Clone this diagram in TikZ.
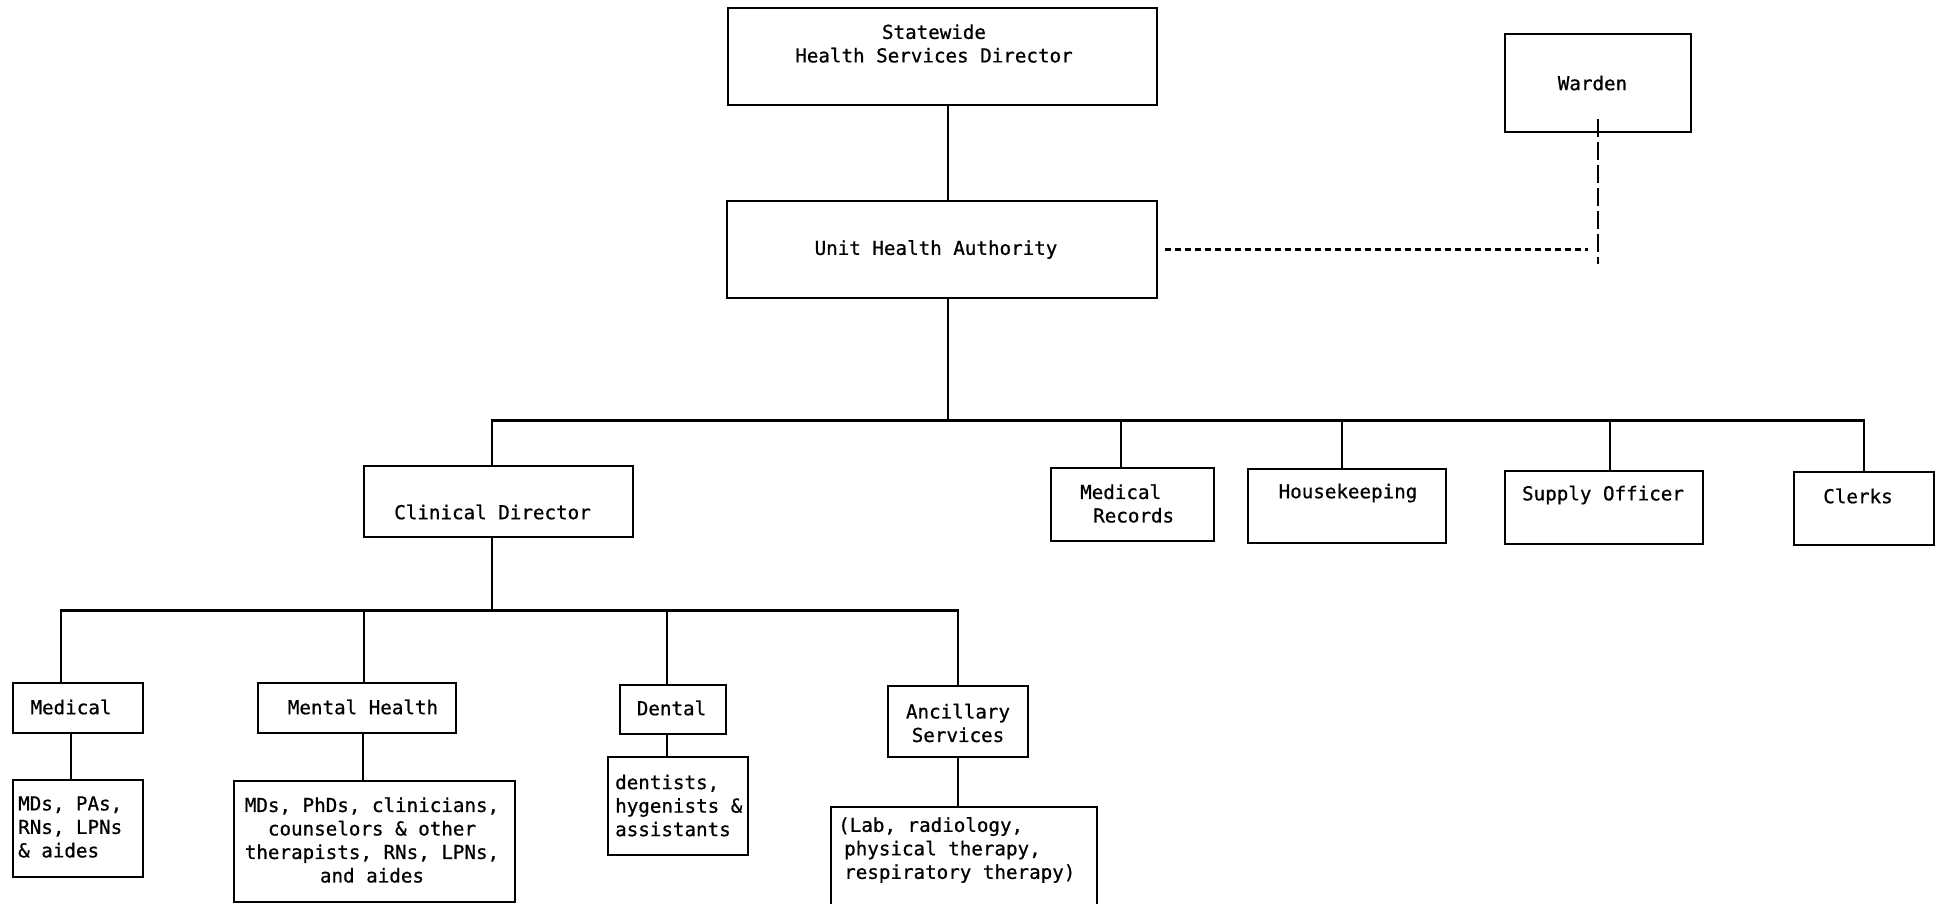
\documentclass[tikz,border=0pt]{standalone}
\usepackage{fontspec}
\newfontfamily\chartfont{DejaVu Sans Mono}[FakeBold=0.7]
\begin{document}
\begin{tikzpicture}[x=1pt,y=-1pt,
  box/.style={draw, rectangle, line width=2.2pt, inner sep=0pt},
  txt/.style={inner sep=0pt, font=\chartfont\fontsize{19.2}{23.5}\selectfont},
  link/.style={line width=2.2pt},
  shortdash/.style={line width=2.2pt, dash pattern=on 6pt off 4pt},
  longdash/.style={line width=2.6pt, dash pattern=on 18pt off 5pt}]

% page frame
\useasboundingbox (0,0) rectangle (1936,903);
\clip (0,0) rectangle (1936,903);
\fill[white] (0,0) rectangle (1936,903);

% ---- top of the chart
\node[box, minimum width=429pt, minimum height=97pt] (sd) at (942.5,56.5) {};
\node[txt, align=center] (sd-t) at (934,43.5) {Statewide\\Health Services Director};

\node[box, minimum width=430pt, minimum height=97pt] (uha) at (942,249.5) {};
\node[txt] (uha-t) at (936,249.5) {Unit Health Authority};

\node[box, minimum width=186pt, minimum height=98pt] (warden) at (1598,83) {};
\node[txt] (warden-t) at (1592.5,83) {Warden};

% ---- second level
\node[box, minimum width=269pt, minimum height=71pt] (cd) at (498.5,501.5) {};
\node[txt] (cd-t) at (492.5,512) {Clinical Director};

\node[box, minimum width=163pt, minimum height=73pt] (mr) at (1132.5,504.5) {};
\node[txt, align=left, anchor=west] (mr-t) at (1080,503.5) {Medical\\\hspace*{13pt}Records};

\node[box, minimum width=198pt, minimum height=74pt] (hk) at (1347,506) {};
\node[txt] (hk-t) at (1348,493) {Housekeeping};

\node[box, minimum width=198pt, minimum height=73pt] (so) at (1604,507.5) {};
\node[txt] (so-t) at (1603,495) {Supply Officer};

\node[box, minimum width=140pt, minimum height=73pt] (cl) at (1864,508.5) {};
\node[txt] (cl-t) at (1858,496) {Clerks};

% ---- clinical sections
\node[box, minimum width=130pt, minimum height=50pt] (med) at (78,708) {};
\node[txt] (med-t) at (71,707) {Medical};

\node[box, minimum width=198pt, minimum height=50pt] (mh) at (357,708) {};
\node[txt] (mh-t) at (363,707) {Mental Health};

\node[box, minimum width=106pt, minimum height=49pt] (den) at (673,709.5) {};
\node[txt] (den-t) at (671.5,708) {Dental};

\node[box, minimum width=140pt, minimum height=71pt] (anc) at (958,721.5) {};
\node[txt, align=center] (anc-t) at (958,723) {Ancillary\\Services};

% ---- staff of each section
\node[box, minimum width=130pt, minimum height=97pt] (meds) at (78,828.5) {};
\node[txt, align=left, anchor=west] (meds-t) at (18,827) {MDs, PAs,\\RNs, LPNs\\\& aides};

\node[box, minimum width=281pt, minimum height=121pt] (mhs) at (374.5,841.5) {};
\node[txt, align=center] (mhs-t) at (372,840) {MDs, PhDs, clinicians,\\counselors \& other\\therapists, RNs, LPNs,\\and aides};

\node[box, minimum width=140pt, minimum height=98pt] (dens) at (678,806) {};
\node[txt, align=left, anchor=west] (dens-t) at (615,805.5) {dentists,\\hygenists \&\\assistants};

\node[box, minimum width=266pt, minimum height=113pt] (ancs) at (964,863.5) {};
\node[txt, align=left, anchor=west] (ancs-t) at (838,850) {(Lab, radiology,\\\hspace*{6pt}physical therapy,\\\hspace*{6pt}respiratory therapy)};

% ---- bus lines
\coordinate (bus1L) at (492,420.5);
\coordinate (bus2L) at (61,610.5);

% ---- solid connectors
\draw[link] ([xshift=5.5pt]sd.south) -- ([xshift=5.5pt]sd.south |- uha.north);
\draw[link] ([xshift=6pt]uha.south) -- ([xshift=6pt]uha.south |- bus1L);
\draw[link] ([xshift=-6.5pt]cd.north) -- (bus1L) -| (cl.north);
\draw[link] ([xshift=-11.5pt]mr.north) -- ([xshift=-11.5pt]mr.north |- bus1L);
\draw[link] ([xshift=-5pt]hk.north) -- ([xshift=-5pt]hk.north |- bus1L);
\draw[link] ([xshift=6pt]so.north) -- ([xshift=6pt]so.north |- bus1L);

\draw[link] ([xshift=-6.5pt]cd.south) -- ([xshift=-6.5pt]cd.south |- bus2L);
\draw[link] ([xshift=-17pt]med.north) -- (bus2L) -| (anc.north);
\draw[link] ([xshift=7pt]mh.north) -- ([xshift=7pt]mh.north |- bus2L);
\draw[link] ([xshift=-6pt]den.north) -- ([xshift=-6pt]den.north |- bus2L);

\draw[link] ([xshift=-7pt]med.south) -- ([xshift=-7pt]med.south |- meds.north);
\draw[link] ([xshift=6pt]mh.south) -- ([xshift=6pt]mh.south |- mhs.north);
\draw[link] ([xshift=-6pt]den.south) -- ([xshift=-6pt]den.south |- dens.north);
\draw[link] (anc.south) -- (anc.south |- ancs.north);

% ---- dashed link to the warden
\coordinate (wj) at (1588,249.5);
\coordinate (wend) at (1598,264);
\draw[shortdash] ([xshift=7pt]uha.east) -- (wj);
\draw[longdash] ([yshift=14pt]warden.south) -- (wend);
\end{tikzpicture}
\end{document}
